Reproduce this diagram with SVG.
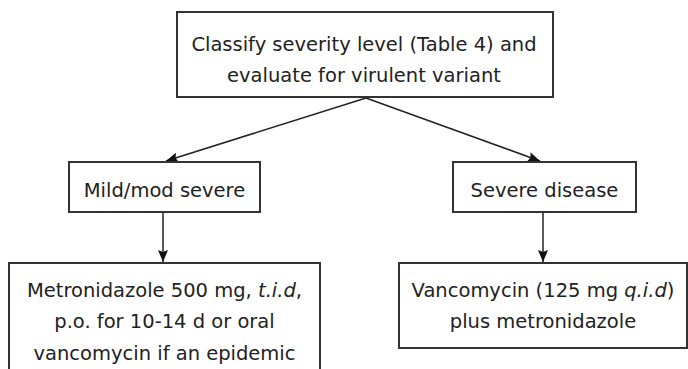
<svg xmlns="http://www.w3.org/2000/svg" width="688" height="369" viewBox="0 0 688 369">
<defs>
<marker id="ah" viewBox="0 0 12 10" refX="12" refY="5" markerWidth="12" markerHeight="10" markerUnits="userSpaceOnUse" orient="auto">
<path d="M0,0 L12,5 L0,10 L2,5 z" fill="#111"/>
</marker>
<style>
.box{fill:#fff;stroke:#333;stroke-width:2}
.t{font-family:"DejaVu Sans",Verdana,sans-serif;font-size:19.5px;fill:#222;text-anchor:middle}
.c{stroke:#222;stroke-width:1.5;fill:none;marker-end:url(#ah)}
</style>
</defs>
<rect width="688" height="369" fill="#fff"/>
<g id="connectors">
<line class="c" x1="366" y1="98" x2="166" y2="161"/>
<line class="c" x1="366" y1="98" x2="540" y2="161"/>
<line class="c" x1="163" y1="213" x2="163" y2="262"/>
<line class="c" x1="543" y1="213" x2="543" y2="262"/>
</g>
<g id="classify">
<rect class="box" x="177" y="12" width="376" height="85"/>
<text class="t" x="364" y="51">Classify severity level (Table 4) and</text>
<text class="t" x="364" y="82">evaluate for virulent variant</text>
</g>
<g id="mild">
<rect class="box" x="69" y="162" width="191" height="50"/>
<text class="t" x="164.5" y="197">Mild/mod severe</text>
</g>
<g id="severe">
<rect class="box" x="453" y="162" width="183" height="50"/>
<text class="t" x="544.5" y="197">Severe disease</text>
</g>
<g id="metronidazole">
<rect class="box" x="9" y="263" width="311" height="120"/>
<text class="t" x="164.5" y="297">Metronidazole 500 mg, <tspan font-style="italic">t.i.d</tspan>,</text>
<text class="t" x="164.5" y="328">p.o. for 10-14 d or oral</text>
<text class="t" x="164.5" y="360">vancomycin if an epidemic</text>
</g>
<g id="vancomycin">
<rect class="box" x="399" y="263" width="288" height="85"/>
<text class="t" x="543" y="297">Vancomycin (125 mg <tspan font-style="italic">q.i.d</tspan>)</text>
<text class="t" x="543" y="328">plus metronidazole</text>
</g>
</svg>
